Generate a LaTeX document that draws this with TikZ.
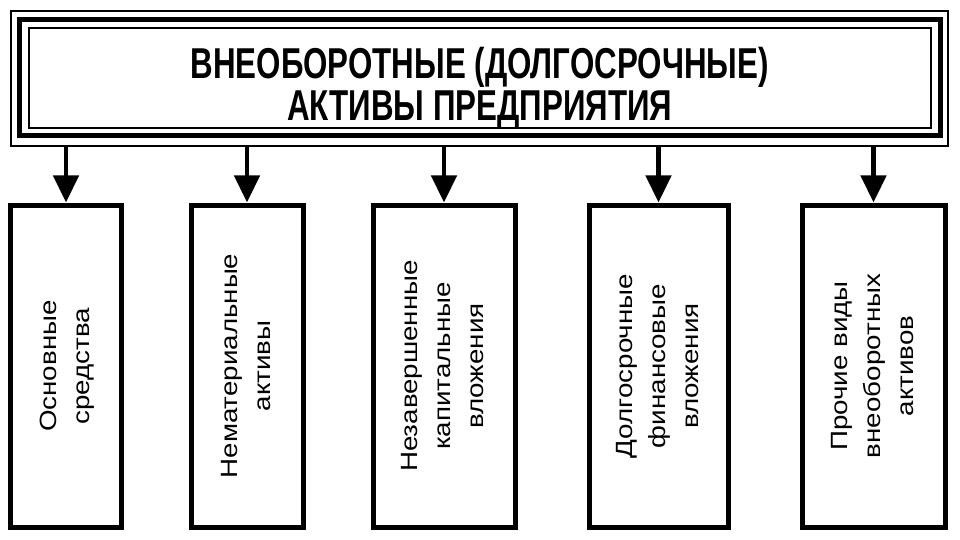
\documentclass[tikz,border=0pt]{standalone}
\usepackage{fontspec}
\setmainfont{Liberation Sans}
\usetikzlibrary{arrows.meta}
\newcommand\itemlabel[1]{\rotatebox{90}{\scalebox{1.18}[1]{\fontsize{23.5}{33}\selectfont\begin{tabular}{@{}c@{}}#1\end{tabular}}}}
\begin{document}
\begin{tikzpicture}[x=1pt,y=-1pt,
  frameline/.style={draw, inner sep=0pt},
  itembox/.style={draw, line width=5pt, minimum height=322pt, inner sep=0pt},
  link/.style={line width=4.5pt, -{Triangle[length=27pt,width=25pt]}}]
\useasboundingbox (0,0) rectangle (960,540);
\fill[white] (0,0) rectangle (960,540);
\node[frameline, line width=2pt, minimum width=937pt, minimum height=135pt] (frame) at (479.5,78.5) {};
\node[frameline, line width=5pt, minimum width=920.5pt, minimum height=116pt] (mid) at (479.75,77.5) {};
\node[frameline, line width=2pt, minimum width=902.2pt, minimum height=99.5pt] (inner) at (479.6,78.25) {};
\node[inner sep=0pt] (title) at (479.6,90) {\scalebox{1}[1.38]{\fontsize{31.3}{30.4}\selectfont\bfseries\begin{tabular}{@{}c@{}}ВНЕОБОРОТНЫЕ (ДОЛГОСРОЧНЫЕ)\\АКТИВЫ ПРЕДПРИЯТИЯ\end{tabular}}};
\node[itembox, minimum width=111pt] (b1) at (66,366) {\itemlabel{Основные\\средства}};
\node[itembox, minimum width=112pt] (b2) at (247,366) {\itemlabel{Нематериальные\\активы}};
\node[itembox, minimum width=142pt] (b3) at (444,366) {\itemlabel{Незавершенные\\капитальные\\вложения}};
\node[itembox, minimum width=139pt] (b4) at (658.5,366) {\itemlabel{Долгосрочные\\финансовые\\вложения}};
\node[itembox, minimum width=143pt] (b5) at (873.5,366) {\itemlabel{Прочие виды\\внеоборотных\\активов}};
\foreach \b in {b1,b2,b3,b4,b5}
  \draw[link] (frame.south -| \b.north) -- (\b.north);
\end{tikzpicture}
\end{document}
